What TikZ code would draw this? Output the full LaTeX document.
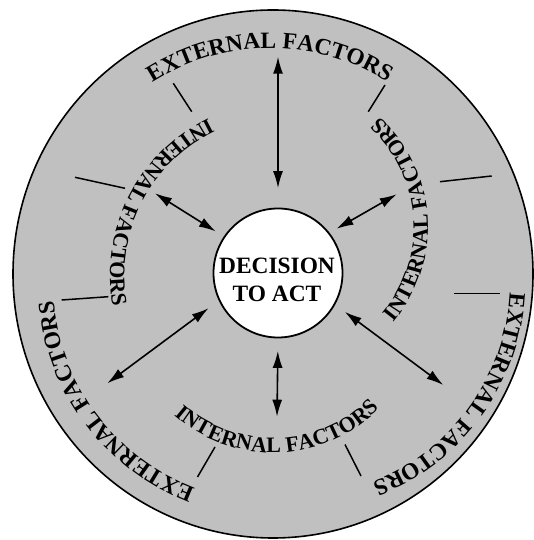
\documentclass[tikz,border=0pt]{standalone}
\usepackage{fontspec}
\setmainfont{Liberation Serif}
\usetikzlibrary{arrows.meta,decorations.text}

\definecolor{ringgray}{RGB}{192,192,192}
\newcommand{\outerfont}{\fontsize{23.4}{28.3}\selectfont\bfseries}
\newcommand{\innerfont}{\fontsize{22}{26}\selectfont\bfseries}

\tikzset{
  twoway/.style={{Latex[length=17pt,width=10pt]}-{Latex[length=17pt,width=10pt]}, line width=1.6pt},
  divider/.style={line width=1.5pt},
  outerword/.style={decorate, decoration={text along path, text align=center, text={|\outerfont|#1}}},
  innerword/.style={decorate, decoration={text along path, text align=center, text={|\innerfont|#1}}},
}

\begin{document}
\begin{tikzpicture}[x=1pt,y=1pt]
\fill[white] (0,0) rectangle (533,540);
\useasboundingbox (0,0) rectangle (533,540);

% outer disc
\coordinate (ringc) at (273,266);
\draw[line width=1.6pt, fill=ringgray] (ringc) ellipse [x radius=260pt, y radius=264pt];

% centre
\node[circle, draw, fill=white, line width=1.8pt, minimum size=129pt, inner sep=0pt] (dec) at (278,267) {};
\node[font=\outerfont, align=center] (dectext) at (277,260) {DECISION\\TO ACT};

% arcs for the words
\coordinate (topc) at (270,274);
\coordinate (llc) at (274,258);
\coordinate (lrc) at (296,258);
\coordinate (ulc) at (285,264);
\coordinate (rc) at (279,313);
\coordinate (bc) at (273,238);

\path[outerword=EXTERNAL FACTORS] (topc) ++(150:218pt) arc[start angle=150, end angle=30, radius=218pt];
\path[outerword=EXTERNAL FACTORS] (llc) ++(277:221pt) arc[start angle=277, end angle=157, radius=221pt];
\path[outerword=EXTERNAL FACTORS] (lrc) ++(24:214pt) arc[start angle=24, end angle=-96, radius=214pt];

\path[innerword=INTERNAL FACTORS] (ulc) ++(83:175pt) arc[start angle=83, end angle=223, radius=175pt];
\path[innerword=INTERNAL FACTORS] (rc) ++(-66:149pt) arc[start angle=-66, end angle=74, radius=149pt];
\path[innerword=INTERNAL FACTORS] (bc) ++(202:150.5pt) arc[start angle=202, end angle=342, radius=150.5pt];

% arrows
\coordinate (topout) at (278,483.3);
\coordinate (ulout) at (155,346.7);
\coordinate (urout) at (396.7,345.7);
\coordinate (llout) at (107.3,156.7);
\coordinate (lrout) at (443.3,155);
\coordinate (botout) at (277,123.3);

\draw[twoway, shorten >=19.5pt] (topout) -- (dec.90);
\draw[twoway, shorten >=9.4pt] (ulout) -- (dec.146);
\draw[twoway, shorten >=8pt] (urout) -- (dec.38);
\draw[twoway, shorten >=12.6pt] (llout) -- (dec.205);
\draw[twoway, shorten >=12pt] (lrout) -- (dec.331);
\draw[twoway, shorten >=12.5pt] (botout) -- (dec.270);

% short dividers
\draw[divider] (173.3,456.7) -- (191.7,428.3);
\draw[divider] (385,455) -- (368.3,428.3);
\draw[divider] (75,362.7) -- (125,351.7);
\draw[divider] (440,358.3) -- (491.7,364);
\draw[divider] (61.7,240) -- (108.3,243.3);
\draw[divider] (454,246.7) -- (500,246.7);
\draw[divider] (215,93) -- (197.5,63);
\draw[divider] (345,95.5) -- (361,64);
\end{tikzpicture}
\end{document}
